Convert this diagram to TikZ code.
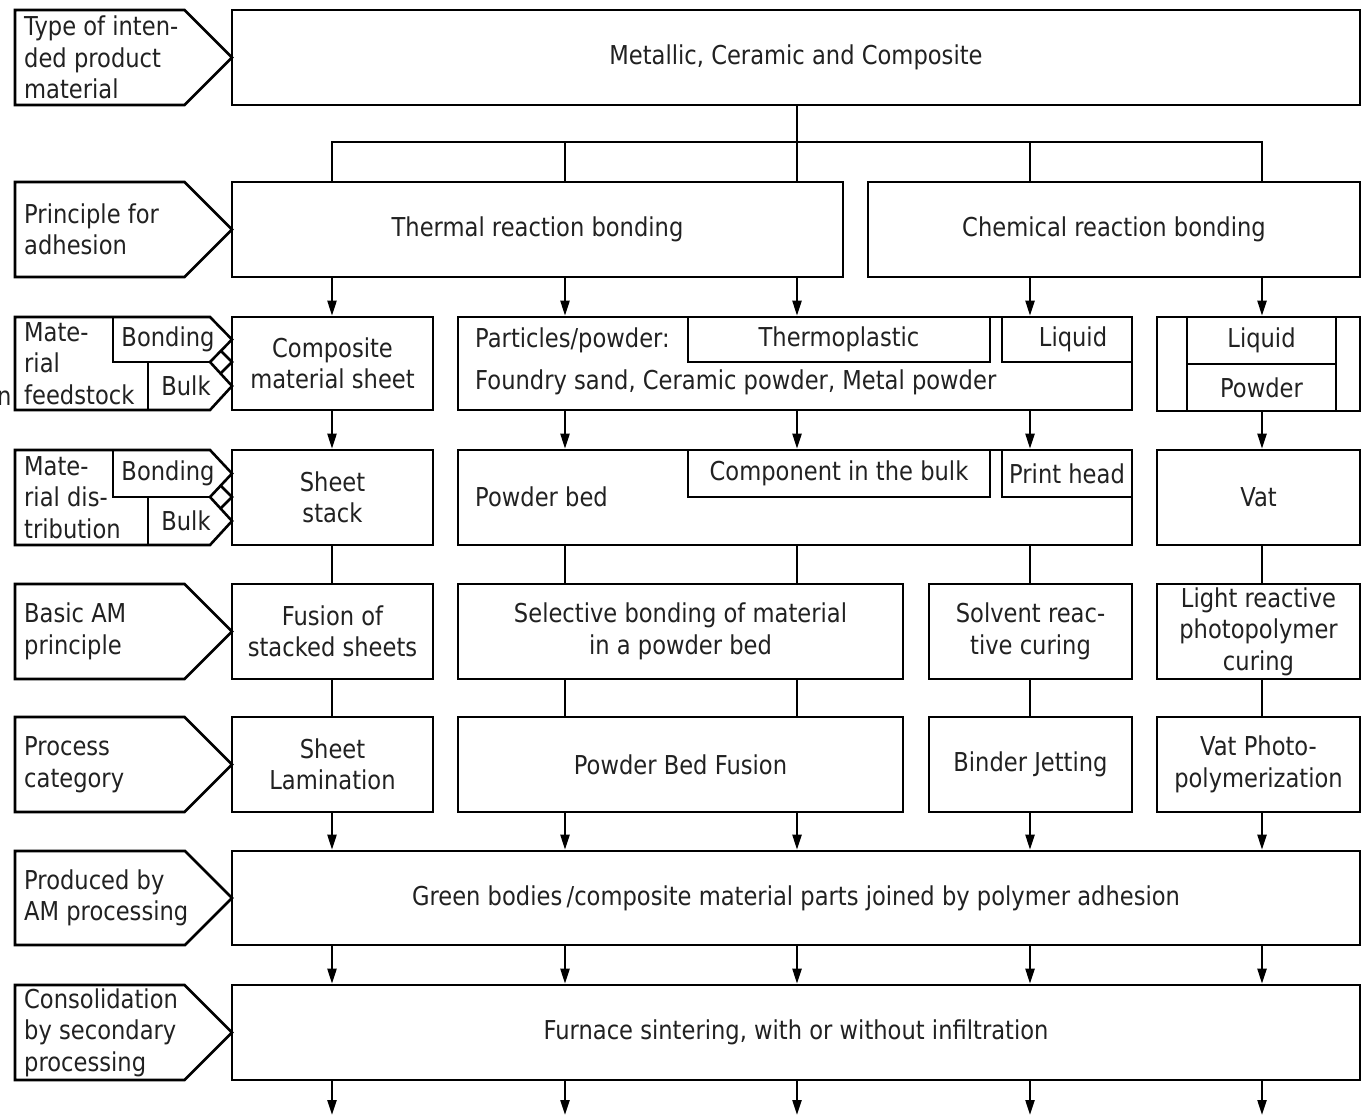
\documentclass[tikz,border=0pt]{standalone}
\usepackage{fontspec}
\setmainfont{DejaVu Sans}[FakeStretch=0.87]
\usetikzlibrary{arrows.meta}
\definecolor{txt}{gray}{0.13}
\newcommand\bxnode[6]{\node[bx,minimum width={#4-#2},minimum height={#5-#3}] (#1) at ({(#2+#4)/2},{(#3+#5)/2}) {#6};}
\newcommand\labbox[4]{%
  \draw[lbl] (15,#2) -- ({232-(#3-#2)/2},#2) -- (232,{(#2+#3)/2}) -- ({232-(#3-#2)/2},#3) -- (15,#3) -- cycle;
  \node[ltxt] (#1) at (24,{(#2+#3)/2}) {#4};}
\newcommand\subbox[5]{% name, top, split, bottom, lefttext
  \draw[lbl] (15,#2) -- (210,#2) -- (232,{(#2+#3)/2}) -- (210,#3) -- (232,{(#3+#4)/2}) -- (210,#4) -- (15,#4) -- cycle;
  \draw[lbl] (113,#2) -- (113,#3) -- (210,#3);
  \draw[lbl] (148,#3) -- (148,#4);
  \draw[lbl] (221,{#3-11}) -- (232,#3) -- (221,{#3+11});
  \node[ltxt] (#1) at (24,{(#2+#4)/2}) {#5};
  \node[ttxt] (#1bond) at (168,{(#2+#3)/2}) {Bonding};
  \node[ttxt] (#1bulk) at (186,{(#3+#4)/2}) {Bulk};}
\begin{document}
\begin{tikzpicture}[x=1pt,y=-1pt,
  every node/.style={font=\fontsize{26}{31.5}\selectfont, text=txt},
  bx/.style={draw=black, line width=2.6pt, inner sep=0pt, align=center, rectangle},
  lbl/.style={draw=black, line width=2.6pt, line join=miter},
  ltxt/.style={anchor=west, align=left, inner sep=0pt},
  ttxt/.style={inner sep=0pt},
  con/.style={line width=2.2pt},
  arr/.style={line width=2.2pt, -{Triangle[length=15pt,width=9pt]}},
]
\fill[white] (0,0) rectangle (1370,1117);
\useasboundingbox (0,0) rectangle (1370,1117);

% column coordinates
\coordinate (c1) at (332,0);
\coordinate (c2) at (565,0);
\coordinate (c3) at (797,0);
\coordinate (c4) at (1030,0);
\coordinate (c5) at (1262,0);
\coordinate (hub) at (797,142);
\coordinate (e1) at (332,1115);
\coordinate (e2) at (565,1115);
\coordinate (e3) at (797,1115);
\coordinate (e4) at (1030,1115);
\coordinate (e5) at (1262,1115);

% stray letter at left edge
\node[anchor=base west, inner sep=0pt] (stray) at (-3,405) {n};

% left labels
\labbox{l1}{10}{105}{Type of inten-\\ded product\\material}
\labbox{l2}{182}{277}{Principle for\\adhesion}
\subbox{l3}{317}{362}{410}{Mate-\\rial\\feedstock}
\subbox{l4}{450}{497}{545}{Mate-\\rial dis-\\tribution}
\labbox{l5}{584}{679}{Basic AM\\principle}
\labbox{l6}{717}{812}{Process\\category}
\labbox{l7}{851}{945}{Produced by\\AM processing}
\labbox{l8}{985}{1080}{Consolidation\\by secondary\\processing}

% row 1
\bxnode{mat}{232}{10}{1360}{105}{Metallic, Ceramic and Composite}
% row 2
\bxnode{thermal}{232}{182}{843}{277}{Thermal reaction bonding}
\bxnode{chem}{868}{182}{1360}{277}{Chemical reaction bonding}
% row 3
\bxnode{comp}{232}{317}{433}{410}{Composite\\material sheet}
\bxnode{part}{458}{317}{1132}{410}{}
\bxnode{thermo}{688}{317}{990}{362}{Thermoplastic}
\bxnode{liq}{1002}{317}{1132}{362}{\hspace*{12pt}Liquid}
\node[ltxt] (parttxt) at (475,340) {Particles/powder:};
\node[ltxt] (foundry) at (475,382) {Foundry sand, Ceramic powder, Metal powder};
\bxnode{feed}{1157}{317}{1360}{411}{}
\bxnode{liq2}{1187}{317}{1336}{364}{Liquid}
\bxnode{pow2}{1187}{364}{1336}{411}{Powder}
% row 4
\bxnode{sheet}{232}{450}{433}{545}{Sheet\\stack}
\bxnode{bed}{458}{450}{1132}{545}{}
\node[ltxt] (bedtxt) at (475,497) {Powder bed};
\bxnode{bulk}{688}{450}{990}{497}{Component in the bulk}
\bxnode{head}{1002}{450}{1132}{497}{Print head}
\bxnode{vat}{1157}{450}{1360}{545}{Vat}
% row 5
\bxnode{fus}{232}{584}{433}{679}{Fusion of\\stacked sheets}
\bxnode{sel}{458}{584}{903}{679}{Selective bonding of material\\in a powder bed}
\bxnode{solv}{929}{584}{1132}{679}{Solvent reac-\\tive curing}
\bxnode{light}{1157}{584}{1360}{679}{Light reactive\\photopolymer\\curing}
% row 6
\bxnode{lam}{232}{717}{433}{812}{Sheet\\Lamination}
\bxnode{pbf}{458}{717}{903}{812}{Powder Bed Fusion}
\bxnode{bj}{929}{717}{1132}{812}{Binder Jetting}
\bxnode{vpp}{1157}{717}{1360}{812}{Vat Photo-\\polymerization}
% row 7, 8
\bxnode{green}{232}{851}{1360}{945}{Green bodies\,/composite material parts joined by polymer adhesion}
\bxnode{furn}{232}{985}{1360}{1080}{Furnace sintering, with or without infiltration}

% row 1 -> 2 tree
\draw[con] (mat.south -| c3) -- (hub);
\draw[con] (thermal.north -| c1) -- (c1 |- hub) -- (c5 |- hub) -- (chem.north -| c5);
\draw[con] (c2 |- hub) -- (thermal.north -| c2);
\draw[con] (c3 |- hub) -- (thermal.north -| c3);
\draw[con] (c4 |- hub) -- (chem.north -| c4);

% row 2 -> 3
\draw[arr] (thermal.south -| c1) -- (comp.north -| c1);
\draw[arr] (thermal.south -| c2) -- (part.north -| c2);
\draw[arr] (thermal.south -| c3) -- (thermo.north -| c3);
\draw[arr] (chem.south -| c4) -- (liq.north -| c4);
\draw[arr] (chem.south -| c5) -- (feed.north -| c5);
% row 3 -> 4
\draw[arr] (comp.south -| c1) -- (sheet.north -| c1);
\draw[arr] (part.south -| c2) -- (bed.north -| c2);
\draw[arr] (part.south -| c3) -- (bulk.north -| c3);
\draw[arr] (part.south -| c4) -- (head.north -| c4);
\draw[arr] (feed.south -| c5) -- (vat.north -| c5);
% row 4 -> 5
\draw[con] (sheet.south -| c1) -- (fus.north -| c1);
\draw[con] (bed.south -| c2) -- (sel.north -| c2);
\draw[con] (bed.south -| c3) -- (sel.north -| c3);
\draw[con] (bed.south -| c4) -- (solv.north -| c4);
\draw[con] (vat.south -| c5) -- (light.north -| c5);
% row 5 -> 6
\draw[con] (fus.south -| c1) -- (lam.north -| c1);
\draw[con] (sel.south -| c2) -- (pbf.north -| c2);
\draw[con] (sel.south -| c3) -- (pbf.north -| c3);
\draw[con] (solv.south -| c4) -- (bj.north -| c4);
\draw[con] (light.south -| c5) -- (vpp.north -| c5);
% row 6 -> 7
\draw[arr] (lam.south -| c1) -- (green.north -| c1);
\draw[arr] (pbf.south -| c2) -- (green.north -| c2);
\draw[arr] (pbf.south -| c3) -- (green.north -| c3);
\draw[arr] (bj.south -| c4) -- (green.north -| c4);
\draw[arr] (vpp.south -| c5) -- (green.north -| c5);
% row 7 -> 8 and outputs
\foreach \c/\e in {c1/e1,c2/e2,c3/e3,c4/e4,c5/e5}{
  \draw[arr] (green.south -| \c) -- (furn.north -| \c);
  \draw[arr] (furn.south -| \c) -- (\e);
}
\end{tikzpicture}
\end{document}
